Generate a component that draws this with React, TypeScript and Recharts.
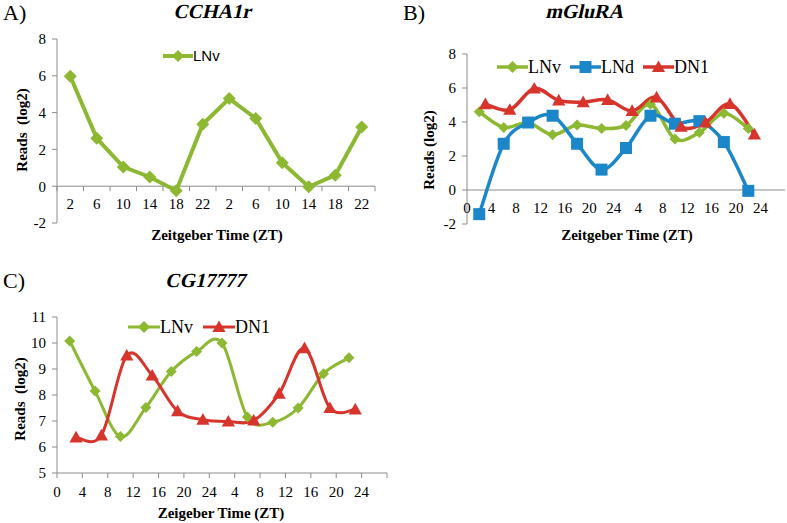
import React from 'react';
import { LineChart, Line, XAxis, YAxis, ReferenceLine, Legend } from 'recharts';

// A) CCHA1r
const ztA = [2, 6, 10, 14, 18, 22, 2, 6, 10, 14, 18, 22];
const lnvA = [5.98, 2.6, 1.05, 0.5, -0.25, 3.37, 4.76, 3.68, 1.27, -0.03, 0.6, 3.22];
const yTicksA = [-2, 0, 2, 4, 6, 8];

// B) mGluRA
const hoursB = [2, 6, 10, 14, 18, 22, 26, 30, 34, 38, 42, 46];
const lnvB = [4.6, 3.68, 3.95, 3.25, 3.82, 3.62, 3.8, 5.05, 3.0, 3.38, 4.52, 3.62];
const lndB = [-1.42, 2.72, 3.97, 4.37, 2.72, 1.2, 2.47, 4.37, 3.9, 4.05, 2.82, -0.05];
const hoursDn1B = [3, 7, 11, 15, 19, 23, 27, 31, 35, 39, 43, 47];
const dn1B = [5.05, 4.72, 5.97, 5.27, 5.17, 5.3, 4.65, 5.45, 3.72, 3.97, 5.07, 3.27];
const ticksB = [0, 4, 8, 12, 16, 20, 24, 28, 32, 36, 40, 44, 48];
const tickLabelsB = ['0', '4', '8', '12', '16', '20', '24', '4', '8', '12', '16', '20', '24'];
const yTicksB = [-2, 0, 2, 4, 6, 8];

// C) CG17777
const hoursC = [2, 6, 10, 14, 18, 22, 26, 30, 34, 38, 42, 46];
const lnvC = [10.08, 8.15, 6.4, 7.52, 8.9, 9.67, 10.0, 7.15, 6.95, 7.5, 8.82, 9.43];
const hoursDn1C = [3, 7, 11, 15, 19, 23, 27, 31, 35, 39, 43, 47];
const dn1C = [6.37, 6.45, 9.52, 8.75, 7.38, 7.05, 6.98, 7.02, 8.05, 9.8, 7.5, 7.45];
const ticksC = [0, 4, 8, 12, 16, 20, 24, 28, 32, 36, 40, 44, 48, 52];
const tickLabelsC = ['0', '4', '8', '12', '16', '20', '24', '4', '8', '12', '16', '20', '24', ''];
const yTicksC = [5, 6, 7, 8, 9, 10, 11];

const seriesOrder = ['LNv', 'LNd', 'DN1'];

const GREEN = '#8cb832';
const BLUE = '#1b87c9';
const RED = '#d7342b';
const AXIS = '#8c8c8c';
const SERIF = "'Liberation Serif', 'Times New Roman', 'DejaVu Serif', serif";
const SANS = "'Liberation Sans', Arial, sans-serif";

const rowsA = ztA.map((zt, i) => ({ i, zt, lnv: lnvA[i] }));
const pairs = (xs: number[], ys: number[]) => xs.map((h, i) => ({ h, v: ys[i] }));

// Excel-like smoothed line (catmull-rom through the points)
const smooth = (ctx: any) => {
  let pts: number[][] = [];
  return {
    areaStart() {},
    areaEnd() {},
    lineStart() {
      pts = [];
    },
    point(x: number, y: number) {
      pts.push([+x, +y]);
    },
    lineEnd() {
      pts.forEach((p, i) => {
        if (i === 0) {
          ctx.moveTo(p[0], p[1]);
          return;
        }
        const a = pts[Math.max(i - 2, 0)];
        const b = pts[i - 1];
        const d = pts[Math.min(i + 1, pts.length - 1)];
        ctx.bezierCurveTo(
          b[0] + (p[0] - a[0]) / 6,
          b[1] + (p[1] - a[1]) / 6,
          p[0] - (d[0] - b[0]) / 6,
          p[1] - (d[1] - b[1]) / 6,
          p[0],
          p[1]
        );
      });
    },
  };
};

type Kind = 'diamond' | 'square' | 'triangle';
const MARK: Record<string, Kind> = { LNv: 'diamond', LNd: 'square', DN1: 'triangle' };

const Marker = ({ kind, cx, cy, r, color }: { kind: Kind; cx: number; cy: number; r: number; color: string }) => {
  if (kind === 'square') return <rect x={cx - r} y={cy - r} width={2 * r} height={2 * r} fill={color} />;
  if (kind === 'triangle')
    return (
      <polygon
        points={`${cx},${cy - r * 1.1} ${cx + r * 1.1},${cy + r * 0.85} ${cx - r * 1.1},${cy + r * 0.85}`}
        fill={color}
      />
    );
  return <polygon points={`${cx},${cy - r} ${cx + r},${cy} ${cx},${cy + r} ${cx - r},${cy}`} fill={color} />;
};

const dotOf = (kind: Kind, r: number, color: string) => (p: any) =>
  p.cx == null ? <g key={`e-${p.index}`} /> : (
    <g key={`${kind}-${p.index}`}>
      <Marker kind={kind} cx={p.cx} cy={p.cy} r={r} color={color} />
    </g>
  );

const legendContent = (font: React.CSSProperties, lineW: number, gap: number, r: number, sw: number) => (props: any) => {
  const items = [...(props.payload || [])].sort(
    (a: any, b: any) => seriesOrder.indexOf(a.value) - seriesOrder.indexOf(b.value)
  );
  return (
    <div style={{ display: 'flex', alignItems: 'center', gap }}>
      {items.map((p: any) => (
        <div key={p.value} style={{ display: 'flex', alignItems: 'center' }}>
          <svg width={lineW} height={16} style={{ display: 'block' }}>
            <line x1={0} x2={lineW} y1={8} y2={8} stroke={p.color} strokeWidth={sw} />
            <Marker kind={MARK[p.value]} cx={lineW / 2} cy={8} r={r} color={p.color} />
          </svg>
          <span style={{ ...font, lineHeight: '18px' }}>{p.value}</span>
        </div>
      ))}
    </div>
  );
};

// x labels sitting under the zero line (axis crosses at 0)
const ZeroTick = (props: any) => {
  const { x, y, index, labels, lift, edge, last } = props;
  const y0 = y - lift;
  return (
    <g>
      {edge > 0 && <line x1={x - edge} x2={x - edge} y1={y0} y2={y0 + 5} stroke={AXIS} />}
      {edge > 0 && index === last && <line x1={x + edge} x2={x + edge} y1={y0} y2={y0 + 5} stroke={AXIS} />}
      <text x={x} y={y0 + 23} textAnchor="middle" fill="#000" fontSize={15} fontFamily={SERIF}>
        {labels[index]}
      </text>
    </g>
  );
};

// bold "italic" title: slanted by hand, the serif bold-italic face is not available
const Title = ({ x, y, children }: { x: number; y: number; children: string }) => (
  <text
    transform={`translate(${x} ${y}) skewX(-13)`}
    textAnchor="middle"
    fontFamily={SERIF}
    fontSize={20}
    fontWeight="bold"
  >
    {children}
  </text>
);

const yTick = { fill: '#000', fontSize: 15, fontFamily: SERIF };

const PLOT_A = { w: 318, h: 184 };
const PLOT_B = { w: 318, h: 170 };

const App = () => {
  const bandA = PLOT_A.w / ztA.length / 2;
  return (
    <div style={{ position: 'absolute', left: 0, top: 0, width: 787, height: 523, background: '#fff', fontFamily: SERIF }}>
      <div style={{ position: 'absolute', left: 0, top: 0 }}>
        <LineChart width={390} height={260} data={rowsA} margin={{ top: 39, right: 15, bottom: 7, left: 0 }}>
          <XAxis
            dataKey="i"
            type="category"
            height={30}
            axisLine={false}
            tickLine={false}
            tickSize={0}
            tickMargin={0}
            interval={0}
            padding={{ left: bandA, right: bandA }}
            tick={(p: any) => (
              <ZeroTick {...p} labels={ztA} lift={PLOT_A.h * 0.2} edge={bandA} last={ztA.length - 1} />
            )}
          />
          <YAxis
            width={57}
            domain={[-2, 8]}
            ticks={yTicksA}
            interval={0}
            axisLine={{ stroke: AXIS }}
            tickLine={{ stroke: AXIS }}
            tickSize={5}
            tickMargin={6}
            tick={yTick}
          />
          <ReferenceLine y={0} stroke={AXIS} />
          <Line
            dataKey="lnv"
            name="LNv"
            type="linear"
            stroke={GREEN}
            strokeWidth={4}
            dot={dotOf('diamond', 6.5, GREEN)}
            activeDot={false}
            isAnimationActive={false}
          />
          <Legend
            verticalAlign="middle"
            align="center"
            layout="horizontal"
            wrapperStyle={{ top: 47, left: 163, width: 'auto' }}
            content={legendContent({ fontFamily: SANS, fontSize: 15, color: '#000' }, 30, 0, 6, 4)}
          />
        </LineChart>
      </div>

      <div style={{ position: 'absolute', left: 390, top: 0 }}>
        <LineChart width={397} height={260} margin={{ top: 54, right: 2, bottom: 6, left: 0 }}>
          <XAxis
            dataKey="h"
            type="number"
            domain={[0, 52]}
            ticks={ticksB}
            interval={0}
            height={30}
            axisLine={false}
            tickLine={false}
            tickSize={0}
            tickMargin={0}
            tick={(p: any) => <ZeroTick {...p} labels={tickLabelsB} lift={PLOT_B.h * 0.2} edge={0} />}
          />
          <YAxis
            width={77}
            domain={[-2, 8]}
            ticks={yTicksB}
            interval={0}
            axisLine={{ stroke: AXIS }}
            tickLine={{ stroke: AXIS }}
            tickSize={5}
            tickMargin={6}
            tick={yTick}
          />
          <ReferenceLine y={0} stroke={AXIS} />
          <Line
            data={pairs(hoursB, lnvB)}
            dataKey="v"
            name="LNv"
            type={smooth as any}
            stroke={GREEN}
            strokeWidth={3.5}
            dot={dotOf('diamond', 5.5, GREEN)}
            activeDot={false}
            isAnimationActive={false}
          />
          <Line
            data={pairs(hoursB, lndB)}
            dataKey="v"
            name="LNd"
            type={smooth as any}
            stroke={BLUE}
            strokeWidth={3.5}
            dot={dotOf('square', 6, BLUE)}
            activeDot={false}
            isAnimationActive={false}
          />
          <Line
            data={pairs(hoursDn1B, dn1B)}
            dataKey="v"
            name="DN1"
            type={smooth as any}
            stroke={RED}
            strokeWidth={3.5}
            dot={dotOf('triangle', 6, RED)}
            activeDot={false}
            isAnimationActive={false}
          />
          <Legend
            verticalAlign="middle"
            align="center"
            layout="horizontal"
            wrapperStyle={{ top: 58, left: 107, width: 'auto' }}
            content={legendContent({ fontFamily: SERIF, fontSize: 18, color: '#000' }, 31, 9, 6, 3.5)}
          />
        </LineChart>
      </div>

      <div style={{ position: 'absolute', left: 0, top: 260 }}>
        <LineChart width={400} height={263} margin={{ top: 57, right: 13, bottom: 20, left: 0 }}>
          <XAxis
            dataKey="h"
            type="number"
            domain={[0, 52]}
            ticks={ticksC}
            interval={0}
            height={30}
            axisLine={{ stroke: AXIS }}
            tickLine={{ stroke: AXIS }}
            tickSize={5}
            tickMargin={8}
            tick={yTick}
            tickFormatter={(_v: any, i: number) => tickLabelsC[i]}
          />
          <YAxis
            width={57}
            domain={[5, 11]}
            ticks={yTicksC}
            interval={0}
            axisLine={{ stroke: AXIS }}
            tickLine={{ stroke: AXIS }}
            tickSize={5}
            tickMargin={6}
            tick={yTick}
          />
          <Line
            data={pairs(hoursC, lnvC)}
            dataKey="v"
            name="LNv"
            type={smooth as any}
            stroke={GREEN}
            strokeWidth={3}
            dot={dotOf('diamond', 5.5, GREEN)}
            activeDot={false}
            isAnimationActive={false}
          />
          <Line
            data={pairs(hoursDn1C, dn1C)}
            dataKey="v"
            name="DN1"
            type={smooth as any}
            stroke={RED}
            strokeWidth={3}
            dot={dotOf('triangle', 6, RED)}
            activeDot={false}
            isAnimationActive={false}
          />
          <Legend
            verticalAlign="middle"
            align="center"
            layout="horizontal"
            wrapperStyle={{ top: 58, left: 128, width: 'auto' }}
            content={legendContent({ fontFamily: SERIF, fontSize: 18, color: '#000' }, 32, 10, 6, 3)}
          />
        </LineChart>
      </div>

      <svg width={787} height={523} style={{ position: 'absolute', left: 0, top: 0, pointerEvents: 'none' }}>
        <text x={3} y={20} fontFamily={SERIF} fontSize={22}>A)</text>
        <Title x={212} y={18}>CCHA1r</Title>
        <text x={27} y={130} textAnchor="middle" transform="rotate(-90 27 130)" fontFamily={SERIF} fontSize={15} fontWeight="bold" xmlSpace="preserve">
          Reads  (log2)
        </text>
        <text x={217} y={240} textAnchor="middle" fontFamily={SERIF} fontSize={15} fontWeight="bold">
          Zeitgeber Time (ZT)
        </text>

        <text x={403} y={20} fontFamily={SERIF} fontSize={22}>B)</text>
        <Title x={584} y={18}>mGluRA</Title>
        <text x={434} y={150} textAnchor="middle" transform="rotate(-90 434 150)" fontFamily={SERIF} fontSize={15} fontWeight="bold">
          Reads (log2)
        </text>
        <text x={627} y={240} textAnchor="middle" fontFamily={SERIF} fontSize={15} fontWeight="bold">
          Zeitgeber Time (ZT)
        </text>

        <text x={3} y={288} fontFamily={SERIF} fontSize={22}>C)</text>
        <Title x={205} y={287}>CG17777</Title>
        <text x={25} y={399} textAnchor="middle" transform="rotate(-90 25 399)" fontFamily={SERIF} fontSize={15} fontWeight="bold" xmlSpace="preserve">
          Reads  (log2)
        </text>
        <text x={221} y={518} textAnchor="middle" fontFamily={SERIF} fontSize={15} fontWeight="bold">
          Zeigeber Time (ZT)
        </text>
      </svg>
    </div>
  );
};

export default App;
